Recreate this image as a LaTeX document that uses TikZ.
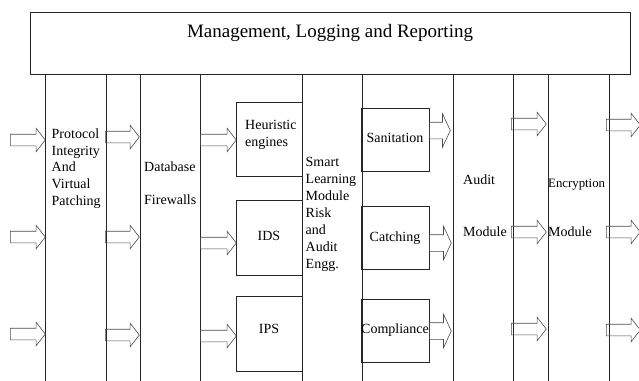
\documentclass[tikz,border=0pt]{standalone}
\usepackage{fontspec}
\setmainfont{Liberation Serif}
\usetikzlibrary{shapes.arrows}
\begin{document}
\begin{tikzpicture}[x=1pt,y=-1pt,
  rule/.style={draw=black!85, line width=0.7pt},
  module/.style={draw=black!85, line width=0.7pt, inner sep=0pt, anchor=north west},
  body/.style={font=\fontsize{14}{16.8}\selectfont, inner sep=0pt, align=left},
  flow/.style={single arrow, draw=black!70, line width=0.6pt, inner xsep=0pt,
    inner ysep=5.5pt, single arrow head extend=6pt, single arrow tip angle=104,
    minimum height=35pt, anchor=tail},
  outflow/.style={flow, inner ysep=8pt, single arrow head extend=8.5pt,
    single arrow tip angle=130, minimum height=22pt}]
\useasboundingbox (0,0) rectangle (639,380);

% management bar
\node[draw=black!85, line width=0.7pt, minimum width=600pt, minimum height=62pt,
      inner sep=0pt, anchor=north west] (top) at (30,11.5) {};
\node[font=\fontsize{19}{22}\selectfont, inner sep=0pt, anchor=base] (toptxt) at (330,37)
  {Management, Logging and Reporting};

% column rules
\foreach \x in {45,106,140,200,302,362,453,513,548,609}
  \draw[rule] (\x,73.5) -- (\x,381);

% column captions
\node[body, anchor=north west] (proto) at (51.5,128.4)
  {Protocol\\Integrity\\And\\Virtual\\Patching};
\node[body, font=\fontsize{14}{33}\selectfont, anchor=north west] (dbfw) at (144,162)
  {Database\\Firewalls};
\node[body, font=\fontsize{14}{17}\selectfont, anchor=north west] (smart) at (305.5,157)
  {Smart\\Learning\\Module\\Risk\\and\\Audit\\Engg.};
\node[body, font=\fontsize{14}{52}\selectfont, anchor=north west] (audit) at (463,175)
  {Audit\\Module};
\node[body, font=\fontsize{14}{49.5}\selectfont, anchor=north west] (encr) at (548,178.5)
  {{\fontsize{12.8}{49.5}\selectfont Encryption}\\Module};

% detection boxes
\node[module, minimum width=66pt, minimum height=74pt] (heur) at (236,102) {};
\node[module, minimum width=66pt, minimum height=75pt] (ids) at (236,200) {};
\node[module, minimum width=66pt, minimum height=75pt] (ips) at (236,296) {};
\node[body, anchor=north west] (heurtxt) at (245,120) {Heuristic\\engines};
\node[body, anchor=base] (idstxt) at (269,240) {IDS};
\node[body, anchor=base] (ipstxt) at (269,333.5) {IPS};

% smart learning outputs
\node[module, minimum width=68pt, minimum height=63pt] (san) at (361,108) {};
\node[module, minimum width=68pt, minimum height=63pt] (cat) at (361,206) {};
\node[module, minimum width=68pt, minimum height=63pt] (comp) at (361,299) {};
\node[body, anchor=base] (santxt) at (395,142.5) {Sanitation};
\node[body, anchor=base] (cattxt) at (395,241.5) {Catching};
\node[body, anchor=base] (comptxt) at (395,333.5) {Compliance};

% flow arrows
\node[flow] (a1) at (10,140) {};
\node[flow] (a2) at (10,237) {};
\node[flow] (a3) at (10,334) {};
\node[flow, minimum height=34pt] (a4) at (105,137) {};
\node[flow, minimum height=34pt] (a5) at (105,237) {};
\node[flow, minimum height=34pt] (a6) at (105,335) {};
\node[flow, minimum height=36pt] (a7) at (200,140) {};
\node[flow, minimum height=36pt] (a8) at (200,243) {};
\node[flow, minimum height=36pt] (a9) at (200,336) {};
\node[outflow, minimum height=21pt] (a10) at (429,130.5) {};
\node[outflow] (a11) at (429,243) {};
\node[outflow] (a12) at (429,331) {};
\node[flow] (a13) at (511,124) {};
\node[flow] (a14) at (511,232) {};
\node[flow] (a15) at (511,329) {};
\node[flow, minimum height=34pt] (a16) at (606,125) {};
\node[flow, minimum height=34pt] (a17) at (606,232) {};
\node[flow, minimum height=34pt] (a18) at (606,330) {};
\end{tikzpicture}
\end{document}
